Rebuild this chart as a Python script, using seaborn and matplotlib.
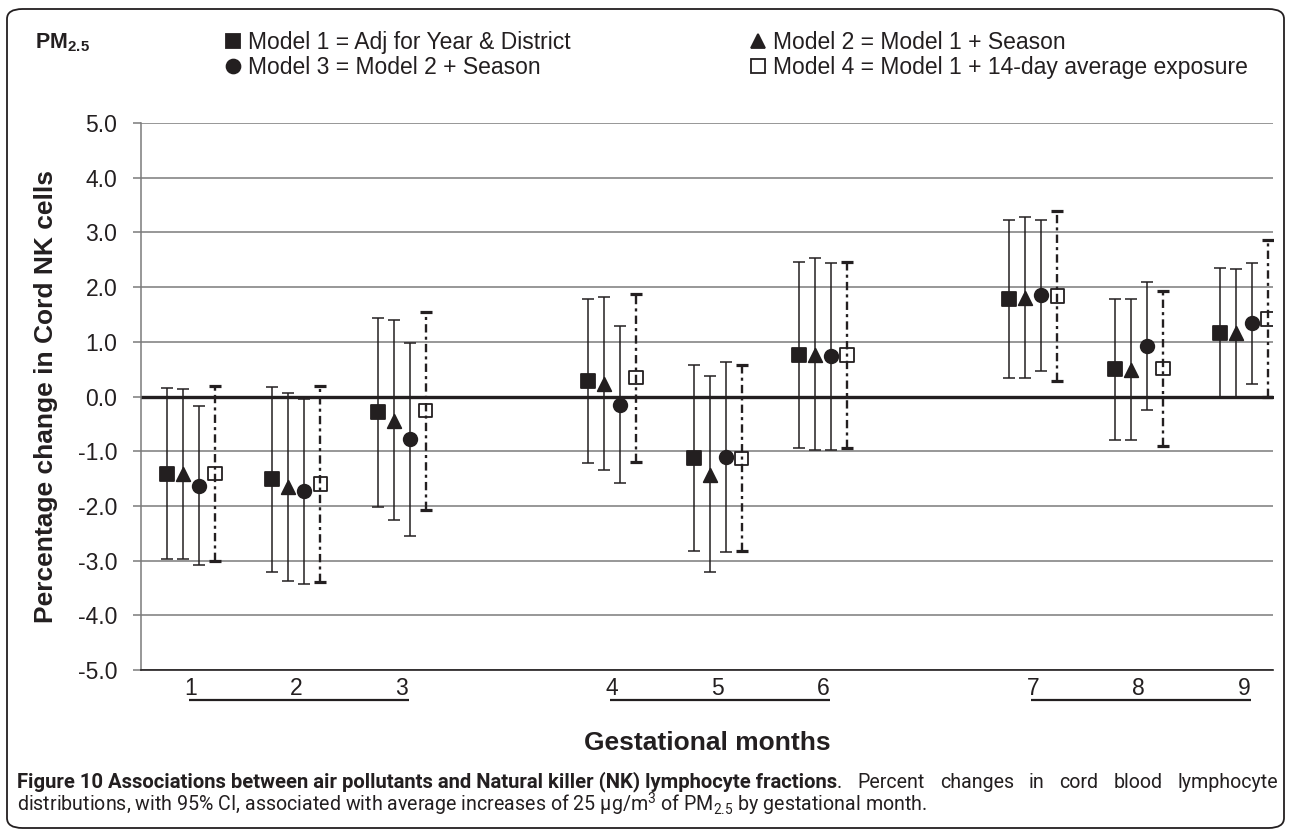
import numpy as np
import pandas as pd
import matplotlib
matplotlib.use("Agg")
import matplotlib.pyplot as plt
import matplotlib.transforms as mtransforms
from matplotlib.lines import Line2D
from matplotlib.patches import FancyBboxPatch
import seaborn as sns

# data (percent change, 95% CI)
months = [1, 2, 3, 4, 5, 6, 7, 8, 9]
model_names = ["Model 1 = Adj for Year & District", "Model 2 = Model 1 + Season",
               "Model 3 = Model 2 + Season", "Model 4 = Model 1 + 14-day average exposure"]

m1_est = [-1.41, -1.51, -0.29, 0.29, -1.13, 0.76, 1.78, 0.51, 1.17]
m1_lo = [-2.97, -3.21, -2.02, -1.21, -2.83, -0.94, 0.33, -0.79, 0.00]
m1_hi = [0.15, 0.17, 1.44, 1.78, 0.57, 2.45, 3.22, 1.78, 2.35]

m2_est = [-1.42, -1.65, -0.44, 0.23, -1.43, 0.76, 1.80, 0.49, 1.17]
m2_lo = [-2.97, -3.37, -2.26, -1.34, -3.20, -0.97, 0.33, -0.80, 0.00]
m2_hi = [0.13, 0.06, 1.39, 1.81, 0.37, 2.54, 3.28, 1.78, 2.34]

m3_est = [-1.63, -1.73, -0.78, -0.15, -1.11, 0.74, 1.85, 0.92, 1.34]
m3_lo = [-3.08, -3.42, -2.55, -1.58, -2.85, -0.97, 0.47, -0.25, 0.23]
m3_hi = [-0.18, -0.04, 0.98, 1.29, 0.63, 2.44, 3.23, 2.09, 2.44]

m4_est = [-1.41, -1.60, -0.26, 0.35, -1.13, 0.76, 1.84, 0.51, 1.42]
m4_lo = [-3.01, -3.39, -2.07, -1.20, -2.82, -0.94, 0.28, -0.91, -0.01]
m4_hi = [0.20, 0.20, 1.54, 1.87, 0.58, 2.46, 3.39, 1.92, 2.86]

yticks = [-5, -4, -3, -2, -1, 0, 1, 2, 3, 4, 5]

sns.set_theme(style="white")
plt.rcParams["font.family"] = ["Liberation Sans", "DejaVu Sans"]
plt.rcParams["axes.unicode_minus"] = False
plt.rcParams["mathtext.fontset"] = "custom"
plt.rcParams["mathtext.rm"] = "Liberation Sans"
plt.rcParams["mathtext.bf"] = "Liberation Sans:bold"
plt.rcParams["lines.scale_dashes"] = False

ink = "#231f20"
grid_col = "#7a7a7a"

# long table
rows = []
for name, est, lo, hi in zip(model_names, [m1_est, m2_est, m3_est, m4_est],
                             [m1_lo, m2_lo, m3_lo, m4_lo], [m1_hi, m2_hi, m3_hi, m4_hi]):
    for m, e, l, h in zip(months, est, lo, hi):
        rows.append({"month": m, "model": name, "est": e, "lo": l, "hi": h})
df = pd.DataFrame(rows)

# one empty slot between trimesters, four models side by side
offsets = dict(zip(model_names, [-0.228, -0.076, 0.076, 0.228]))
df["slot"] = (df["month"] - 1) + (df["month"] - 1) // 3
df["xpos"] = df["slot"] + df["model"].map(offsets)

fig = plt.figure(figsize=(12.9, 8.3), dpi=100)
ax = fig.add_axes([141 / 1290, 1 - 670 / 830, 1132 / 1290, 547 / 830])

ax.set_xlim(-0.475, 10.275)
ax.set_ylim(-5, 5)
ax.set_yticks(yticks)
ax.set_yticklabels([f"{v:.1f}" for v in yticks], fontsize=16.5)
for v in yticks:
    if v != 0:
        ax.axhline(v, color=grid_col, lw=1.1, zorder=1)
ax.axhline(0, color=ink, lw=2.4, zorder=2)

styles = {
    model_names[0]: dict(marker="s", facecolor=ink, ls="-", lw=1.1, cap=1.1),
    model_names[1]: dict(marker="^", facecolor=ink, ls="-", lw=1.1, cap=1.1),
    model_names[2]: dict(marker="o", facecolor=ink, ls="-", lw=1.1, cap=1.1),
    model_names[3]: dict(marker="s", facecolor="none", ls=(0, (6, 3, 2.2, 3)), lw=1.7, cap=2.3),
}

for name in model_names:
    sub = df[df["model"] == name]
    st = styles[name]
    eb = ax.errorbar(sub["xpos"], sub["est"],
                     yerr=[sub["est"] - sub["lo"], sub["hi"] - sub["est"]],
                     fmt="none", ecolor=ink, elinewidth=st["lw"], capsize=4.6,
                     capthick=st["cap"], zorder=3)
    eb[2][0].set_linestyle(st["ls"])
    sns.scatterplot(data=sub, x="xpos", y="est", ax=ax, marker=st["marker"], s=95,
                    facecolor=st["facecolor"], edgecolor=ink, linewidth=1.3,
                    zorder=4, legend=False)

# x axis: months, underlined per trimester
slots = sorted(df["slot"].unique())
ax.set_xticks(slots)
ax.set_xticklabels([str(m) for m in months], fontsize=16.5)
ax.tick_params(axis="x", length=0, pad=5, colors=ink)
ax.tick_params(axis="y", length=6, width=1.1, color=grid_col, labelcolor=ink, pad=11, left=True)
trans = mtransforms.blended_transform_factory(ax.transData, ax.transAxes)
for g in range(3):
    s0, s1 = slots[3 * g], slots[3 * g + 2]
    ax.plot([s0 - 0.02, s1 + 0.07], [-0.054, -0.054], transform=trans,
            color=ink, lw=1.6, clip_on=False, solid_capstyle="butt")

for side in ["top", "right"]:
    ax.spines[side].set_visible(False)
ax.spines["left"].set_color(grid_col)
ax.spines["left"].set_linewidth(1.1)
ax.spines["bottom"].set_color(ink)
ax.spines["bottom"].set_linewidth(1.2)

ax.set_xlabel("Gestational months", fontsize=19, fontweight="bold", color=ink)
ax.xaxis.set_label_coords(0.5, (670 - 743) / 547)
ax.xaxis.label.set_va("center")
ax.set_ylabel("Percentage change in Cord NK cells", fontsize=19, fontweight="bold", color=ink)
ax.yaxis.set_label_coords((46 - 141) / 1132, 0.5)
ax.yaxis.label.set_va("center")

# legend in two columns
def handle(name):
    st = styles[name]
    return Line2D([], [], ls="none", marker=st["marker"], markersize=10,
                  markerfacecolor=st["facecolor"], markeredgecolor=ink, markeredgewidth=1.3)

for col, (a, b) in enumerate([(0, 2), (1, 3)]):
    x0 = [225, 750][col]
    fig.legend([handle(model_names[a]), handle(model_names[b])],
               [model_names[a], model_names[b]],
               loc="center left", bbox_to_anchor=(x0 / 1290, 1 - 55 / 830),
               frameon=False, fontsize=16.5, borderpad=0, borderaxespad=0,
               handlelength=0.7, handletextpad=0.3, labelspacing=0.08,
               labelcolor=ink)

fig.text(35 / 1290, 1 - 43 / 830, r"PM$_\mathbf{2.5}$", fontsize=15.5,
         fontweight="bold", va="center", ha="left", color=ink)

# rounded frame around the figure panel
frame = FancyBboxPatch((7 / 1290, 2 / 830), 1277 / 1290, 819 / 830,
                       boxstyle="round,pad=0,rounding_size=0.012",
                       transform=fig.transFigure, fill=False, ec=ink, lw=1.3)
fig.patches.append(frame)

# caption, sizes fitted to the width the reference lines take
def fit_width(t, width_px):
    fig.canvas.draw()
    w = t.get_window_extent().width
    t.set_fontsize(t.get_fontsize() * width_px / w)

cap_fam = ["Roboto", "Liberation Sans", "DejaVu Sans"]
plt.rcParams["mathtext.rm"] = "Roboto"
y1 = 1 - 782 / 830
t1 = fig.text(17 / 1290, y1,
              "Figure 10 Associations between air pollutants and Natural killer (NK) lymphocyte fractions",
              fontsize=12, fontweight="bold", family=cap_fam, va="center", ha="left", color=ink)
fit_width(t1, 822)
t3 = fig.text(17 / 1290, 1 - 804 / 830,
              r"distributions, with 95% CI, associated with average increases of 25 μg/m$^3$ of PM$_{2.5}$ by gestational month.",
              fontsize=12, family=cap_fam, va="center", ha="left", color=ink)
fit_width(t3, 908)
cap_size = t3.get_fontsize()
fig.canvas.draw()
dot = fig.text(t1.get_window_extent().x1 / 1290, y1, ".", fontsize=cap_size,
               family=cap_fam, va="center", ha="left", color=ink)

# justified rest of the first caption line
words = "Percent changes in cord blood lymphocyte".split()
wt = [fig.text(0, y1, w, fontsize=cap_size, family=cap_fam, va="center",
               ha="left", color=ink) for w in words]
fig.canvas.draw()
widths = [t.get_window_extent().width for t in wt]
start = dot.get_window_extent().x1
gap = (1278 - start - sum(widths)) / len(words)
xcur = start + gap
for t, w in zip(wt, widths):
    t.set_x(xcur / 1290)
    xcur += w + gap

fig.savefig("out.png", dpi=100)
